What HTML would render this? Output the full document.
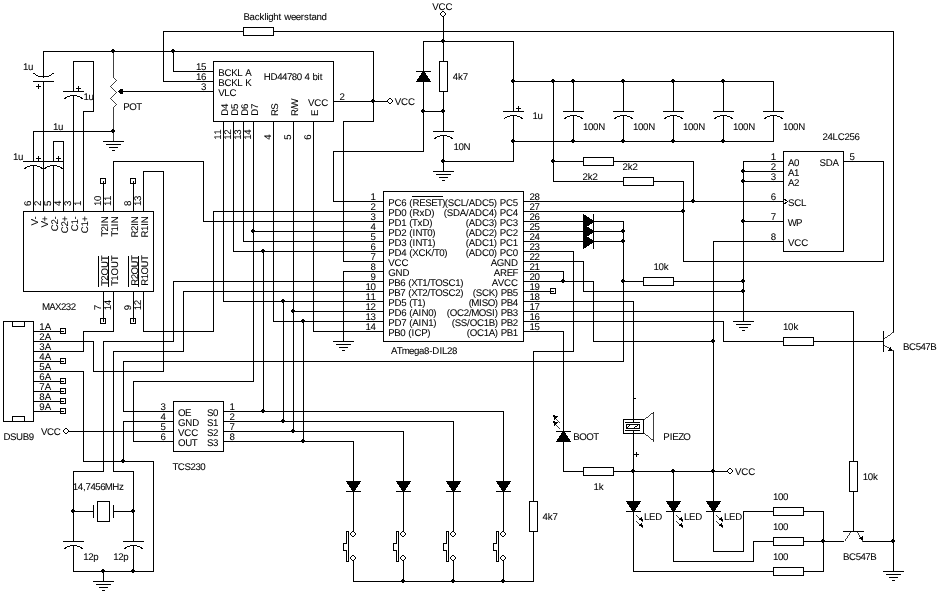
<!DOCTYPE html>
<html lang="nl">
<head>
<meta charset="utf-8">
<title>ATmega8 schema</title>
<style>
html,body{margin:0;padding:0;background:#fff}
body{width:939px;height:595px;overflow:hidden}
svg{display:block}
.bg{fill:#fff}
.g *{fill:none;stroke:#000;stroke-width:1;stroke-linecap:square}
.g .d,.g .k{fill:#000;stroke:none}
.g .w,.g .o{fill:#fff}
.g .s{stroke-width:.75;stroke-linecap:butt}
.g .a{shape-rendering:crispEdges}
.t text{font-family:"Liberation Sans",sans-serif;font-size:9.7px;fill:#000;stroke:#000;stroke-width:.07px;text-rendering:geometricPrecision}
</style>
</head>
<body>
<svg width="939" height="595" viewBox="0 0 939 595">
<rect class="bg" width="939" height="595"/>
<g class="g" shape-rendering="crispEdges">
<polyline points="163.5,81.5 163.5,31.5 243.5,31.5"/>
<rect class="w" x="243.5" y="27.5" width="30" height="8"/>
<polyline points="273.5,31.5 893.5,31.5 893.5,331.5"/>
<polyline points="163.5,81.5 213.5,81.5"/>
<polyline points="43.5,77.5 43.5,51.5 373.5,51.5 373.5,121.5 343.5,121.5 343.5,261.5 383.5,261.5"/>
<path class="d" d="M112,49h2v1h1v2h-1v1h-2v-1h-1v-2h1z"/>
<path class="d" d="M172,49h2v1h1v2h-1v1h-2v-1h-1v-2h1z"/>
<path class="d" d="M372,99h2v1h1v2h-1v1h-2v-1h-1v-2h1z"/>
<polyline points="173.5,51.5 173.5,71.5 213.5,71.5"/>
<rect x="213.5" y="61.5" width="120" height="60"/>
<polyline points="333.5,101.5 387.5,101.5"/>
<polygon class="o" points="389.5,98.5 390.5,98.5 392.5,100.5 392.5,101.5 390.5,103.5 389.5,103.5 387.5,101.5 387.5,100.5"/>
<polyline points="33.5,81.5 53.5,81.5"/>
<path class="a" d="M34,73.5 A15,15 0 0 0 53,73.5"/>
<polyline points="36.5,86.5 40.5,86.5"/>
<polyline points="38.5,84.5 38.5,88.5"/>
<polyline points="43.5,81.5 43.5,211.5"/>
<polyline points="73.5,91.5 73.5,61.5 93.5,61.5 93.5,111.5 83.5,111.5 83.5,211.5"/>
<polyline points="63.5,91.5 83.5,91.5"/>
<path class="a" d="M64.5,98.5 A15,15 0 0 1 82.5,98.5"/>
<polyline points="76.5,88.5 80.5,88.5"/>
<polyline points="78.5,86.5 78.5,90.5"/>
<polyline points="73.5,95.5 73.5,211.5"/>
<polyline class="s" points="113.5,51.5 113.5,76.5 116.5,79.5 110.5,85.5 116.5,91.5 110.5,97.5 116.5,103.5 113.5,106.5 113.5,141.5"/>
<polygon class="k" points="117.6,91.5 120,90 120,89 123,89 123,94 120,94 120,93"/>
<polyline points="120.5,91.5 213.5,91.5"/>
<path class="d" d="M112,129h2v1h1v2h-1v1h-2v-1h-1v-2h1z"/>
<polyline points="113.5,131.5 33.5,131.5 33.5,161.5"/>
<polyline points="103.5,141.5 123.5,141.5"/>
<polyline points="106.5,144.5 120.5,144.5"/>
<polyline points="109.5,147.5 117.5,147.5"/>
<polyline points="112.5,150.5 114.5,150.5"/>
<polyline points="23.5,161.5 43.5,161.5"/>
<path class="a" d="M24.5,168.5 A15,15 0 0 1 42.5,168.5"/>
<polyline points="36.5,158.5 40.5,158.5"/>
<polyline points="38.5,156.5 38.5,160.5"/>
<polyline points="33.5,165.5 33.5,211.5"/>
<polyline points="43.5,161.5 63.5,161.5"/>
<path class="a" d="M44.5,168.5 A15,15 0 0 1 62.5,168.5"/>
<polyline points="56.5,158.5 60.5,158.5"/>
<polyline points="58.5,156.5 58.5,160.5"/>
<polyline points="53.5,161.5 53.5,141.5 63.5,141.5 63.5,211.5"/>
<polyline points="53.5,165.5 53.5,211.5"/>
<rect x="23.5" y="211.5" width="130" height="80"/>
<polyline points="98.5,256.5 98.5,286.5"/>
<polyline points="108.5,256.5 108.5,286.5"/>
<rect x="100.5" y="178.5" width="5" height="5"/>
<polyline points="103.5,181.5 103.5,211.5"/>
<rect x="100.5" y="318.5" width="5" height="5"/>
<polyline points="103.5,291.5 103.5,321.5"/>
<polyline points="128.5,256.5 128.5,286.5"/>
<polyline points="138.5,256.5 138.5,286.5"/>
<rect x="130.5" y="178.5" width="5" height="5"/>
<polyline points="133.5,181.5 133.5,211.5"/>
<rect x="130.5" y="318.5" width="5" height="5"/>
<polyline points="133.5,291.5 133.5,321.5"/>
<polyline points="113.5,211.5 113.5,161.5 203.5,161.5 203.5,221.5 383.5,221.5"/>
<polyline points="143.5,211.5 143.5,171.5 163.5,171.5 163.5,371.5 93.5,371.5 93.5,341.5 33.5,341.5"/>
<polyline points="113.5,291.5 113.5,331.5 83.5,331.5 83.5,351.5 33.5,351.5"/>
<polyline points="143.5,291.5 143.5,331.5 213.5,331.5 213.5,211.5 383.5,211.5"/>
<rect x="3.5" y="321.5" width="30" height="100"/>
<rect x="12.5" y="321.5" width="12" height="5"/>
<rect x="12.5" y="416.5" width="12" height="5"/>
<polyline points="33.5,331.5 63.5,331.5"/>
<rect x="60.5" y="328.5" width="5" height="5"/>
<polyline points="33.5,361.5 63.5,361.5"/>
<rect x="60.5" y="358.5" width="5" height="5"/>
<polyline points="33.5,381.5 63.5,381.5"/>
<rect x="60.5" y="378.5" width="5" height="5"/>
<polyline points="33.5,391.5 63.5,391.5"/>
<rect x="60.5" y="388.5" width="5" height="5"/>
<polyline points="33.5,401.5 63.5,401.5"/>
<rect x="60.5" y="398.5" width="5" height="5"/>
<polyline points="33.5,411.5 63.5,411.5"/>
<rect x="60.5" y="408.5" width="5" height="5"/>
<polyline points="33.5,371.5 83.5,371.5 83.5,461.5 153.5,461.5 153.5,571.5 73.5,571.5 73.5,545.5"/>
<path class="d" d="M122,459h2v1h1v2h-1v1h-2v-1h-1v-2h1z"/>
<path class="d" d="M102,569h2v1h1v2h-1v1h-2v-1h-1v-2h1z"/>
<path class="d" d="M132,569h2v1h1v2h-1v1h-2v-1h-1v-2h1z"/>
<polyline points="103.5,571.5 103.5,581.5"/>
<polyline points="93.5,581.5 113.5,581.5"/>
<polyline points="96.5,584.5 110.5,584.5"/>
<polyline points="99.5,587.5 107.5,587.5"/>
<polyline points="102.5,590.5 104.5,590.5"/>
<polyline points="133.5,545.5 133.5,571.5"/>
<polygon class="o" points="65.5,428.5 66.5,428.5 68.5,430.5 68.5,431.5 66.5,433.5 65.5,433.5 63.5,431.5 63.5,430.5"/>
<polyline points="69.5,431.5 173.5,431.5"/>
<polyline points="383.5,281.5 173.5,281.5 173.5,341.5 103.5,341.5 103.5,471.5 73.5,471.5 73.5,541.5"/>
<polyline points="383.5,291.5 183.5,291.5 183.5,351.5 113.5,351.5 113.5,471.5 133.5,471.5 133.5,541.5"/>
<polyline points="63.5,541.5 83.5,541.5"/>
<path class="a" d="M64.5,548.5 A15,15 0 0 1 82.5,548.5"/>
<polyline points="123.5,541.5 143.5,541.5"/>
<path class="a" d="M124.5,548.5 A15,15 0 0 1 142.5,548.5"/>
<path class="d" d="M72,509h2v1h1v2h-1v1h-2v-1h-1v-2h1z"/>
<path class="d" d="M132,509h2v1h1v2h-1v1h-2v-1h-1v-2h1z"/>
<polyline points="73.5,511.5 93.5,511.5"/>
<polyline points="93.5,505.5 93.5,517.5"/>
<rect class="w" x="97.5" y="501.5" width="12" height="20"/>
<polyline points="113.5,505.5 113.5,517.5"/>
<polyline points="113.5,511.5 133.5,511.5"/>
<rect x="173.5" y="401.5" width="50" height="50"/>
<polyline points="623.5,221.5 623.5,361.5 123.5,361.5 123.5,411.5 173.5,411.5"/>
<polyline points="173.5,421.5 123.5,421.5 123.5,461.5"/>
<polyline points="173.5,441.5 133.5,441.5 133.5,381.5 253.5,381.5 253.5,121.5"/>
<path class="d" d="M252,229h2v1h1v2h-1v1h-2v-1h-1v-2h1z"/>
<polyline points="253.5,231.5 383.5,231.5"/>
<polyline points="223.5,121.5 223.5,301.5 383.5,301.5"/>
<path class="d" d="M282,299h2v1h1v2h-1v1h-2v-1h-1v-2h1z"/>
<polyline points="283.5,301.5 283.5,421.5"/>
<path class="d" d="M282,419h2v1h1v2h-1v1h-2v-1h-1v-2h1z"/>
<polyline points="233.5,121.5 233.5,251.5 383.5,251.5"/>
<path class="d" d="M262,249h2v1h1v2h-1v1h-2v-1h-1v-2h1z"/>
<polyline points="263.5,251.5 263.5,411.5"/>
<path class="d" d="M262,409h2v1h1v2h-1v1h-2v-1h-1v-2h1z"/>
<polyline points="243.5,121.5 243.5,241.5 383.5,241.5"/>
<polyline points="273.5,121.5 273.5,321.5 383.5,321.5"/>
<path class="d" d="M302,319h2v1h1v2h-1v1h-2v-1h-1v-2h1z"/>
<polyline points="303.5,321.5 303.5,441.5"/>
<path class="d" d="M302,439h2v1h1v2h-1v1h-2v-1h-1v-2h1z"/>
<polyline points="293.5,121.5 293.5,431.5"/>
<path class="d" d="M292,309h2v1h1v2h-1v1h-2v-1h-1v-2h1z"/>
<path class="d" d="M292,429h2v1h1v2h-1v1h-2v-1h-1v-2h1z"/>
<polyline points="293.5,311.5 383.5,311.5"/>
<polyline points="313.5,121.5 313.5,331.5 383.5,331.5"/>
<polyline points="223.5,411.5 503.5,411.5 503.5,481.5"/>
<polygon class="k" points="495.67,481 511.33,481 504.67,491 502.33,491"/>
<polyline points="496.5,491.5 510.5,491.5"/>
<polyline points="503.5,491.5 503.5,531.5"/>
<polygon class="o" points="502.5,531.5 503.5,531.5 505.5,533.5 505.5,534.5 503.5,536.5 502.5,536.5 500.5,534.5 500.5,533.5"/>
<polygon class="o" points="502.5,555.5 503.5,555.5 505.5,557.5 505.5,558.5 503.5,560.5 502.5,560.5 500.5,558.5 500.5,557.5"/>
<polyline points="503.5,561.5 503.5,581.5"/>
<path class="w" d="M496.5,531.5 h2 v30 h-2 v-11 h-3 v-7 h3 z"/>
<polyline points="223.5,421.5 453.5,421.5 453.5,481.5"/>
<polygon class="k" points="445.67,481 461.33,481 454.67,491 452.33,491"/>
<polyline points="446.5,491.5 460.5,491.5"/>
<polyline points="453.5,491.5 453.5,531.5"/>
<polygon class="o" points="452.5,531.5 453.5,531.5 455.5,533.5 455.5,534.5 453.5,536.5 452.5,536.5 450.5,534.5 450.5,533.5"/>
<polygon class="o" points="452.5,555.5 453.5,555.5 455.5,557.5 455.5,558.5 453.5,560.5 452.5,560.5 450.5,558.5 450.5,557.5"/>
<polyline points="453.5,561.5 453.5,581.5"/>
<path class="w" d="M446.5,531.5 h2 v30 h-2 v-11 h-3 v-7 h3 z"/>
<polyline points="223.5,431.5 403.5,431.5 403.5,481.5"/>
<polygon class="k" points="395.67,481 411.33,481 404.67,491 402.33,491"/>
<polyline points="396.5,491.5 410.5,491.5"/>
<polyline points="403.5,491.5 403.5,531.5"/>
<polygon class="o" points="402.5,531.5 403.5,531.5 405.5,533.5 405.5,534.5 403.5,536.5 402.5,536.5 400.5,534.5 400.5,533.5"/>
<polygon class="o" points="402.5,555.5 403.5,555.5 405.5,557.5 405.5,558.5 403.5,560.5 402.5,560.5 400.5,558.5 400.5,557.5"/>
<polyline points="403.5,561.5 403.5,581.5"/>
<path class="w" d="M396.5,531.5 h2 v30 h-2 v-11 h-3 v-7 h3 z"/>
<polyline points="223.5,441.5 353.5,441.5 353.5,481.5"/>
<polygon class="k" points="345.67,481 361.33,481 354.67,491 352.33,491"/>
<polyline points="346.5,491.5 360.5,491.5"/>
<polyline points="353.5,491.5 353.5,531.5"/>
<polygon class="o" points="352.5,531.5 353.5,531.5 355.5,533.5 355.5,534.5 353.5,536.5 352.5,536.5 350.5,534.5 350.5,533.5"/>
<polygon class="o" points="352.5,555.5 353.5,555.5 355.5,557.5 355.5,558.5 353.5,560.5 352.5,560.5 350.5,558.5 350.5,557.5"/>
<polyline points="353.5,561.5 353.5,581.5"/>
<path class="w" d="M346.5,531.5 h2 v30 h-2 v-11 h-3 v-7 h3 z"/>
<polyline points="353.5,581.5 533.5,581.5 533.5,531.5"/>
<path class="d" d="M402,579h2v1h1v2h-1v1h-2v-1h-1v-2h1z"/>
<path class="d" d="M452,579h2v1h1v2h-1v1h-2v-1h-1v-2h1z"/>
<path class="d" d="M502,579h2v1h1v2h-1v1h-2v-1h-1v-2h1z"/>
<rect class="w" x="529.5" y="501.5" width="8" height="30"/>
<polyline points="533.5,501.5 533.5,351.5 573.5,351.5 573.5,251.5 523.5,251.5"/>
<rect x="383.5" y="191.5" width="140" height="150"/>
<polyline points="412.5,196.5 442.5,196.5"/>
<polyline points="383.5,201.5 333.5,201.5 333.5,151.5 423.5,151.5 423.5,41.5 513.5,41.5 513.5,111.5"/>
<path class="d" d="M422,109h2v1h1v2h-1v1h-2v-1h-1v-2h1z"/>
<path class="d" d="M442,109h2v1h1v2h-1v1h-2v-1h-1v-2h1z"/>
<polyline points="423.5,111.5 443.5,111.5"/>
<polygon class="k" points="415.67,82 431.33,82 424.67,72 422.33,72"/>
<polyline points="416.5,71.5 430.5,71.5"/>
<polygon class="o" points="442.5,11.5 443.5,11.5 445.5,13.5 445.5,14.5 443.5,16.5 442.5,16.5 440.5,14.5 440.5,13.5"/>
<polyline points="443.5,17.5 443.5,61.5"/>
<path class="d" d="M442,39h2v1h1v2h-1v1h-2v-1h-1v-2h1z"/>
<rect class="w" x="439.5" y="61.5" width="8" height="30"/>
<polyline points="443.5,91.5 443.5,131.5"/>
<polyline points="433.5,131.5 453.5,131.5"/>
<path class="a" d="M434.5,138.5 A15,15 0 0 1 452.5,138.5"/>
<polyline points="443.5,135.5 443.5,171.5"/>
<polyline points="433.5,171.5 453.5,171.5"/>
<polyline points="436.5,174.5 450.5,174.5"/>
<polyline points="439.5,177.5 447.5,177.5"/>
<polyline points="442.5,180.5 444.5,180.5"/>
<path class="d" d="M442,159h2v1h1v2h-1v1h-2v-1h-1v-2h1z"/>
<polyline points="443.5,161.5 513.5,161.5 513.5,115.5"/>
<polyline points="503.5,111.5 523.5,111.5"/>
<path class="a" d="M504.5,118.5 A15,15 0 0 1 522.5,118.5"/>
<polyline points="516.5,108.5 520.5,108.5"/>
<polyline points="518.5,106.5 518.5,110.5"/>
<polyline points="383.5,271.5 343.5,271.5 343.5,341.5"/>
<polyline points="333.5,341.5 353.5,341.5"/>
<polyline points="336.5,344.5 350.5,344.5"/>
<polyline points="339.5,347.5 347.5,347.5"/>
<polyline points="342.5,350.5 344.5,350.5"/>
<path class="d" d="M512,79h2v1h1v2h-1v1h-2v-1h-1v-2h1z"/>
<path class="d" d="M512,139h2v1h1v2h-1v1h-2v-1h-1v-2h1z"/>
<polyline points="513.5,81.5 773.5,81.5"/>
<polyline points="513.5,141.5 773.5,141.5"/>
<polyline points="573.5,81.5 573.5,111.5"/>
<polyline points="563.5,111.5 583.5,111.5"/>
<path class="a" d="M564.5,118.5 A15,15 0 0 1 582.5,118.5"/>
<polyline points="573.5,115.5 573.5,141.5"/>
<path class="d" d="M572,79h2v1h1v2h-1v1h-2v-1h-1v-2h1z"/>
<path class="d" d="M572,139h2v1h1v2h-1v1h-2v-1h-1v-2h1z"/>
<polyline points="623.5,81.5 623.5,111.5"/>
<polyline points="613.5,111.5 633.5,111.5"/>
<path class="a" d="M614.5,118.5 A15,15 0 0 1 632.5,118.5"/>
<polyline points="623.5,115.5 623.5,141.5"/>
<path class="d" d="M622,79h2v1h1v2h-1v1h-2v-1h-1v-2h1z"/>
<path class="d" d="M622,139h2v1h1v2h-1v1h-2v-1h-1v-2h1z"/>
<polyline points="673.5,81.5 673.5,111.5"/>
<polyline points="663.5,111.5 683.5,111.5"/>
<path class="a" d="M664.5,118.5 A15,15 0 0 1 682.5,118.5"/>
<polyline points="673.5,115.5 673.5,141.5"/>
<path class="d" d="M672,79h2v1h1v2h-1v1h-2v-1h-1v-2h1z"/>
<path class="d" d="M672,139h2v1h1v2h-1v1h-2v-1h-1v-2h1z"/>
<polyline points="723.5,81.5 723.5,111.5"/>
<polyline points="713.5,111.5 733.5,111.5"/>
<path class="a" d="M714.5,118.5 A15,15 0 0 1 732.5,118.5"/>
<polyline points="723.5,115.5 723.5,141.5"/>
<path class="d" d="M722,79h2v1h1v2h-1v1h-2v-1h-1v-2h1z"/>
<path class="d" d="M722,139h2v1h1v2h-1v1h-2v-1h-1v-2h1z"/>
<polyline points="773.5,81.5 773.5,111.5"/>
<polyline points="763.5,111.5 783.5,111.5"/>
<path class="a" d="M764.5,118.5 A15,15 0 0 1 782.5,118.5"/>
<polyline points="773.5,115.5 773.5,141.5"/>
<path class="d" d="M552,79h2v1h1v2h-1v1h-2v-1h-1v-2h1z"/>
<path class="d" d="M552,159h2v1h1v2h-1v1h-2v-1h-1v-2h1z"/>
<polyline points="553.5,81.5 553.5,181.5 623.5,181.5"/>
<rect class="w" x="623.5" y="177.5" width="30" height="8"/>
<polyline points="653.5,181.5 683.5,181.5 683.5,261.5 883.5,261.5 883.5,161.5 843.5,161.5"/>
<polyline points="553.5,161.5 583.5,161.5"/>
<rect class="w" x="583.5" y="157.5" width="30" height="8"/>
<polyline points="613.5,161.5 693.5,161.5 693.5,201.5"/>
<polyline points="523.5,201.5 783.5,201.5"/>
<path class="d" d="M692,199h2v1h1v2h-1v1h-2v-1h-1v-2h1z"/>
<polyline points="523.5,211.5 683.5,211.5"/>
<path class="d" d="M682,209h2v1h1v2h-1v1h-2v-1h-1v-2h1z"/>
<polyline points="523.5,221.5 623.5,221.5"/>
<polygon class="k" points="583,213.67 583,229.33 593,222.67 593,220.33"/>
<polyline points="523.5,231.5 623.5,231.5"/>
<polygon class="k" points="583,223.67 583,239.33 593,232.67 593,230.33"/>
<polyline points="523.5,241.5 623.5,241.5"/>
<polygon class="k" points="583,233.67 583,249.33 593,242.67 593,240.33"/>
<polyline points="593.5,214.5 593.5,248.5"/>
<path class="d" d="M622,229h2v1h1v2h-1v1h-2v-1h-1v-2h1z"/>
<path class="d" d="M622,239h2v1h1v2h-1v1h-2v-1h-1v-2h1z"/>
<path class="d" d="M622,279h2v1h1v2h-1v1h-2v-1h-1v-2h1z"/>
<polyline points="623.5,281.5 643.5,281.5"/>
<rect class="w" x="643.5" y="277.5" width="30" height="8"/>
<polyline points="673.5,281.5 743.5,281.5"/>
<polyline points="523.5,261.5 583.5,261.5 583.5,291.5 743.5,291.5"/>
<polyline points="523.5,271.5 563.5,271.5 563.5,281.5"/>
<path class="d" d="M562,279h2v1h1v2h-1v1h-2v-1h-1v-2h1z"/>
<polyline points="523.5,281.5 593.5,281.5 593.5,341.5 713.5,341.5"/>
<path class="d" d="M712,339h2v1h1v2h-1v1h-2v-1h-1v-2h1z"/>
<polyline points="523.5,291.5 553.5,291.5"/>
<rect x="550.5" y="288.5" width="5" height="5"/>
<polyline points="523.5,301.5 633.5,301.5 633.5,422.5"/>
<polyline points="523.5,311.5 853.5,311.5 853.5,461.5"/>
<polyline points="523.5,321.5 723.5,321.5 723.5,341.5 783.5,341.5"/>
<rect class="w" x="783.5" y="337.5" width="30" height="8"/>
<polyline points="813.5,341.5 883.5,341.5"/>
<polyline points="523.5,331.5 563.5,331.5 563.5,431.5"/>
<rect x="783.5" y="151.5" width="60" height="100"/>
<path class="w" d="M783.5,198.5 l4,3 l-4,3"/>
<polyline points="783.5,161.5 743.5,161.5 743.5,321.5"/>
<polyline points="733.5,321.5 753.5,321.5"/>
<polyline points="736.5,324.5 750.5,324.5"/>
<polyline points="739.5,327.5 747.5,327.5"/>
<polyline points="742.5,330.5 744.5,330.5"/>
<polyline points="743.5,171.5 783.5,171.5"/>
<polyline points="743.5,181.5 783.5,181.5"/>
<polyline points="743.5,221.5 783.5,221.5"/>
<path class="d" d="M742,169h2v1h1v2h-1v1h-2v-1h-1v-2h1z"/>
<path class="d" d="M742,179h2v1h1v2h-1v1h-2v-1h-1v-2h1z"/>
<path class="d" d="M742,219h2v1h1v2h-1v1h-2v-1h-1v-2h1z"/>
<path class="d" d="M742,279h2v1h1v2h-1v1h-2v-1h-1v-2h1z"/>
<path class="d" d="M742,289h2v1h1v2h-1v1h-2v-1h-1v-2h1z"/>
<polyline points="783.5,241.5 713.5,241.5 713.5,501.5"/>
<polyline points="883.5,331.5 883.5,351.5"/>
<line class="s" x1="883.5" y1="338.5" x2="893.5" y2="331.5"/>
<line class="s" x1="883.5" y1="345.5" x2="893.5" y2="351.5"/>
<polygon class="k" points="892.73,351.04 887.89,350.93 890.36,346.82"/>
<polyline points="893.5,351.5 893.5,571.5"/>
<polyline points="883.5,571.5 903.5,571.5"/>
<polyline points="886.5,574.5 900.5,574.5"/>
<polyline points="889.5,577.5 897.5,577.5"/>
<polyline points="892.5,580.5 894.5,580.5"/>
<path class="d" d="M892,539h2v1h1v2h-1v1h-2v-1h-1v-2h1z"/>
<polygon class="k" points="555.67,442 571.33,442 564.67,432 562.33,432"/>
<polyline points="556.5,431.5 570.5,431.5"/>
<line class="s" x1="560.5" y1="422.5" x2="553.5" y2="415.5"/>
<polygon class="k" points="553.08,415.08 557.74,416.35 554.35,419.74"/>
<line class="s" x1="560.5" y1="428.5" x2="553.5" y2="421.5"/>
<polygon class="k" points="553.08,421.08 557.74,422.35 554.35,425.74"/>
<polyline points="563.5,441.5 563.5,471.5 583.5,471.5"/>
<rect class="w" x="583.5" y="467.5" width="30" height="8"/>
<polyline points="613.5,471.5 727.5,471.5"/>
<polygon class="o" points="729.5,468.5 730.5,468.5 732.5,470.5 732.5,471.5 730.5,473.5 729.5,473.5 727.5,471.5 727.5,470.5"/>
<path class="d" d="M632,469h2v1h1v2h-1v1h-2v-1h-1v-2h1z"/>
<path class="d" d="M672,469h2v1h1v2h-1v1h-2v-1h-1v-2h1z"/>
<path class="d" d="M712,469h2v1h1v2h-1v1h-2v-1h-1v-2h1z"/>
<rect class="w" x="623.5" y="419.5" width="20" height="14"/>
<polyline points="625.5,422.5 639.5,422.5"/>
<polyline points="625.5,430.5 639.5,430.5"/>
<rect class="w" x="626.5" y="424.5" width="13" height="4"/>
<line x1="627.5" y1="427.5" x2="629.5" y2="425.5"/>
<line x1="634.5" y1="427.5" x2="637.5" y2="425.5"/>
<polyline points="633.5,419.5 633.5,422.5"/>
<polyline class="s" points="643.5,419.5 653.5,411.5 653.5,441.5 643.5,433.5"/>
<polyline points="633.5,430.5 633.5,501.5"/>
<polyline points="634.5,398.5 635.5,398.5"/>
<polyline points="634.5,454.5 638.5,454.5"/>
<polyline points="636.5,452.5 636.5,456.5"/>
<polygon class="k" points="625.67,501 641.33,501 634.67,511 632.33,511"/>
<polyline points="626.5,511.5 640.5,511.5"/>
<line class="s" x1="636.5" y1="514.5" x2="643.5" y2="521.5"/>
<polygon class="k" points="643.08,521.08 638.41,519.8 641.8,516.41"/>
<line class="s" x1="636.5" y1="520.5" x2="643.5" y2="527.5"/>
<polygon class="k" points="643.08,527.08 638.41,525.8 641.8,522.41"/>
<polygon class="k" points="665.67,501 681.33,501 674.67,511 672.33,511"/>
<polyline points="666.5,511.5 680.5,511.5"/>
<line class="s" x1="676.5" y1="514.5" x2="683.5" y2="521.5"/>
<polygon class="k" points="683.08,521.08 678.41,519.8 681.8,516.41"/>
<line class="s" x1="676.5" y1="520.5" x2="683.5" y2="527.5"/>
<polygon class="k" points="683.08,527.08 678.41,525.8 681.8,522.41"/>
<polygon class="k" points="705.67,501 721.33,501 714.67,511 712.33,511"/>
<polyline points="706.5,511.5 720.5,511.5"/>
<line class="s" x1="716.5" y1="514.5" x2="723.5" y2="521.5"/>
<polygon class="k" points="723.08,521.08 718.41,519.8 721.8,516.41"/>
<line class="s" x1="716.5" y1="520.5" x2="723.5" y2="527.5"/>
<polygon class="k" points="723.08,527.08 718.41,525.8 721.8,522.41"/>
<polyline points="673.5,471.5 673.5,501.5"/>
<polyline points="633.5,511.5 633.5,571.5 773.5,571.5"/>
<rect class="w" x="773.5" y="567.5" width="30" height="8"/>
<polyline points="803.5,571.5 823.5,571.5 823.5,511.5 803.5,511.5"/>
<polyline points="673.5,511.5 673.5,561.5 753.5,561.5 753.5,541.5 773.5,541.5"/>
<rect class="w" x="773.5" y="537.5" width="30" height="8"/>
<polyline points="803.5,541.5 843.5,541.5"/>
<polyline points="713.5,511.5 713.5,551.5 743.5,551.5 743.5,511.5 773.5,511.5"/>
<rect class="w" x="773.5" y="507.5" width="30" height="8"/>
<path class="d" d="M822,539h2v1h1v2h-1v1h-2v-1h-1v-2h1z"/>
<polyline points="843.5,531.5 863.5,531.5"/>
<line class="s" x1="844.5" y1="540.5" x2="850.5" y2="531.5"/>
<line class="s" x1="857.5" y1="531.5" x2="863.5" y2="541.5"/>
<polygon class="k" points="862.99,540.64 858.77,538.28 862.88,535.81"/>
<polyline points="863.5,541.5 893.5,541.5"/>
<rect class="w" x="849.5" y="461.5" width="8" height="30"/>
<polyline points="853.5,491.5 853.5,531.5"/>
</g>
<g class="t" opacity=".999">
<text x="243.52 249.48 254.68 259.61 264.41 266.38 268.21 273.14 278.43 281.39 284.16 290.88 295.81 300.83 303.97 308.99 311.58 316.51 321.44" y="19.9">Backlight weerstand</text>
<text x="263.63 270.49 277.17 282.07 286.97 291.87 296.77 302.04 304.61 309.88 312.45 317.5 319.68" y="79.6">HD44780 4 bit</text>
<text x="196.1 201.1" y="69.6">15</text>
<text x="218.27 224.5 231.27 237.3 242.65 245.27" y="75.6">BCKL A</text>
<text x="196.1 201.1" y="79.6">16</text>
<text x="218.27 224.5 231.27 237.3 242.65 245.27" y="85.6">BCKL K</text>
<text x="201.1" y="89.6">3</text>
<text x="218.27 224.3 229.5" y="95.6">VLC</text>
<text x="308.07 314.3 321.3" y="105.6">VCC</text>
<text x="339.5" y="99.6">2</text>
<text x="394.77 401 408" y="104.8">VCC</text>
<text transform="translate(227.6,115.7) rotate(-90)" x="-0 6.8" y="0">D4</text>
<text transform="translate(221.2,139.6) rotate(-90)" x="-0.2 4.8" y="0">11</text>
<text transform="translate(237.6,115.7) rotate(-90)" x="-0 6.8" y="0">D5</text>
<text transform="translate(231.2,139.6) rotate(-90)" x="-0.2 4.8" y="0">12</text>
<text transform="translate(247.6,115.7) rotate(-90)" x="-0 6.8" y="0">D6</text>
<text transform="translate(241.2,139.6) rotate(-90)" x="-0.2 4.8" y="0">13</text>
<text transform="translate(257.6,115.7) rotate(-90)" x="-0 6.8" y="0">D7</text>
<text transform="translate(251.2,139.6) rotate(-90)" x="-0.2 4.8" y="0">14</text>
<text transform="translate(277.6,115.7) rotate(-90)" x="-0.27 6" y="0">RS</text>
<text transform="translate(271.2,139.6) rotate(-90)" x="-0.2" y="0">4</text>
<text transform="translate(297.6,115.7) rotate(-90)" x="-0.39 6.21 7.87" y="0">R/W</text>
<text transform="translate(291.2,139.6) rotate(-90)" x="-0.2" y="0">5</text>
<text transform="translate(317.6,115.7) rotate(-90)" x="-0.23" y="0">E</text>
<text transform="translate(311.2,139.6) rotate(-90)" x="-0.2" y="0">6</text>
<text x="23 28" y="69.6">1u</text>
<text x="83.4 88.4" y="99.9">1u</text>
<text x="123.37 129.33 136.14" y="109.6">POT</text>
<text x="53.1 58.1" y="129.6">1u</text>
<text x="13.1 18.1" y="159.6">1u</text>
<text x="41.98 49.13 54.99 60.9 65.78 70.66" y="309.6">MAX232</text>
<text transform="translate(37.6,225.3) rotate(-90)" x="-0.23 5.88" y="0">V-</text>
<text transform="translate(31.2,205.7) rotate(-90)" x="-0.2" y="0">6</text>
<text transform="translate(47.6,227.3) rotate(-90)" x="-0.23 5.67" y="0">V+</text>
<text transform="translate(41.2,205.7) rotate(-90)" x="-0.2" y="0">2</text>
<text transform="translate(57.6,231.3) rotate(-90)" x="-0 6.8 11.88" y="0">C2-</text>
<text transform="translate(51.2,205.7) rotate(-90)" x="-0.2" y="0">5</text>
<text transform="translate(67.6,233.3) rotate(-90)" x="-0 6.8 11.67" y="0">C2+</text>
<text transform="translate(61.2,205.7) rotate(-90)" x="-0.2" y="0">4</text>
<text transform="translate(77.6,231.3) rotate(-90)" x="-0 6.8 11.88" y="0">C1-</text>
<text transform="translate(71.2,205.7) rotate(-90)" x="-0.2" y="0">3</text>
<text transform="translate(87.6,233.3) rotate(-90)" x="-0 6.8 11.67" y="0">C1+</text>
<text transform="translate(81.2,205.7) rotate(-90)" x="-0.2" y="0">1</text>
<text transform="translate(107.6,236.3) rotate(-90)" x="-0.46 4.8 10.15 13" y="0">T2IN</text>
<text transform="translate(101.2,205.7) rotate(-90)" x="-0.2 4.8" y="0">10</text>
<text transform="translate(117.6,236.3) rotate(-90)" x="-0.46 4.8 10.15 13" y="0">T1IN</text>
<text transform="translate(111.2,205.7) rotate(-90)" x="-0.2 4.8" y="0">11</text>
<text transform="translate(137.6,237.3) rotate(-90)" x="-0.16 6.37 11.54 14.16" y="0">R2IN</text>
<text transform="translate(131.2,205.7) rotate(-90)" x="-0.2" y="0">8</text>
<text transform="translate(147.6,237.3) rotate(-90)" x="-0.16 6.37 11.54 14.16" y="0">R1IN</text>
<text transform="translate(141.2,205.7) rotate(-90)" x="-0.2 4.8" y="0">13</text>
<text transform="translate(107.6,285.7) rotate(-90)" x="-0.38 5.06 10.19 17.7 24.45" y="0">T2OUT</text>
<text transform="translate(101.2,310) rotate(-90)" x="-0.2" y="0">7</text>
<text transform="translate(117.6,285.7) rotate(-90)" x="-0.38 5.06 10.19 17.7 24.45" y="0">T1OUT</text>
<text transform="translate(111.2,310) rotate(-90)" x="-0.2 4.8" y="0">14</text>
<text transform="translate(137.6,285.7) rotate(-90)" x="-0.12 6.5 11.23 18.27 24.62" y="0">R2OUT</text>
<text transform="translate(131.2,310) rotate(-90)" x="-0.2" y="0">9</text>
<text transform="translate(147.6,285.7) rotate(-90)" x="-0.12 6.5 11.23 18.27 24.62" y="0">R1OUT</text>
<text transform="translate(141.2,310) rotate(-90)" x="-0.2 4.8" y="0">12</text>
<text x="39.33 44.79" y="329.6">1A</text>
<text x="39.33 44.79" y="339.6">2A</text>
<text x="39.33 44.79" y="349.6">3A</text>
<text x="39.33 44.79" y="359.6">4A</text>
<text x="39.33 44.79" y="369.6">5A</text>
<text x="39.33 44.79" y="379.6">6A</text>
<text x="39.33 44.79" y="389.6">7A</text>
<text x="39.33 44.79" y="399.6">8A</text>
<text x="39.33 44.79" y="409.6">9A</text>
<text x="3.42 10.04 16.12 22.75 28.66" y="439.6">DSUB9</text>
<text x="40.96 46.96 53.72" y="434.6">VCC</text>
<text x="72.75 77.66 82.93 85.5 90.41 95.31 100.22 104.76 112.16 119.12" y="489.9">14,7456MHz</text>
<text x="83.3 88.3 93.3" y="559.9">12p</text>
<text x="113.3 118.3 123.3" y="559.9">12p</text>
<text x="172.5 177.87 184.54 190.49 195.42 200.34" y="469.8">TCS230</text>
<text x="160.6" y="409.6">3</text>
<text x="178.03 185.07" y="415.6">OE</text>
<text x="229.5" y="409.6">1</text>
<text x="207.07 213.1" y="415.6">S0</text>
<text x="160.6" y="419.6">4</text>
<text x="178.03 185.3 192.3" y="425.6">GND</text>
<text x="229.5" y="419.6">2</text>
<text x="207.07 213.1" y="425.6">S1</text>
<text x="160.6" y="429.6">5</text>
<text x="178.07 184.3 191.3" y="435.6">VCC</text>
<text x="229.5" y="429.6">7</text>
<text x="207.07 213.1" y="435.6">S2</text>
<text x="160.6" y="439.6">6</text>
<text x="178.03 185.3 191.84" y="445.6">OUT</text>
<text x="229.5" y="439.6">8</text>
<text x="207.07 213.1" y="445.6">S3</text>
<text x="542.4 547.68 552.4" y="519.9">4k7</text>
<text x="391.07 396.84 401.76 409.1 414.1 419.1 424.1 429.18 432.3 439.45 442.1 447.1 452.1" y="353.6">ATmega8-DIL28</text>
<text x="370.6" y="199.6">1</text>
<text x="388.17 394.4 401.2 406.55 409.28 412.4 419.17 425.17 431.17 436.94 442.28" y="205.6">PC6 (RESET)</text>
<text x="529.4 534.4" y="199.6">28</text>
<text x="444.78 447.67 453.9 460.7 466.05 468.67 474.9 481.9 488.7 493.78 497.05 499.67 505.9 512.7" y="205.6">(SCL/ADC5) PC5</text>
<text x="370.6" y="209.6">2</text>
<text x="388.17 394.4 401.2 406.55 409.28 412.4 419.47 424.4 431.28" y="215.6">PD0 (RxD)</text>
<text x="529.4 534.4" y="209.6">27</text>
<text x="443.78 446.67 452.9 459.67 466.05 468.67 474.9 481.9 488.7 493.78 497.05 499.67 505.9 512.7" y="215.6">(SDA/ADC4) PC4</text>
<text x="370.6" y="219.6">3</text>
<text x="388.17 394.4 401.2 406.55 409.28 411.94 417.47 422.4 429.28" y="225.6">PD1 (TxD)</text>
<text x="529.4 534.4" y="219.6">26</text>
<text x="465.78 468.67 474.9 481.9 488.7 493.78 497.05 499.67 505.9 512.7" y="225.6">(ADC3) PC3</text>
<text x="370.6" y="229.6">4</text>
<text x="388.17 394.4 401.2 406.55 409.28 412.55 415.4 421.94 427.2 432.28" y="235.6">PD2 (INT0)</text>
<text x="529.4 534.4" y="229.6">25</text>
<text x="465.78 468.67 474.9 481.9 488.7 493.78 497.05 499.67 505.9 512.7" y="235.6">(ADC2) PC2</text>
<text x="370.6" y="239.6">5</text>
<text x="388.17 394.4 401.2 406.55 409.28 412.55 415.4 421.94 427.2 432.28" y="245.6">PD3 (INT1)</text>
<text x="529.4 534.4" y="239.6">24</text>
<text x="465.78 468.67 474.9 481.9 488.7 493.78 497.05 499.67 505.9 512.7" y="245.6">(ADC1) PC1</text>
<text x="370.6" y="249.6">6</text>
<text x="388.17 394.4 401.2 406.55 409.28 412.17 418.4 425.17 431.55 433.94 439.2 444.28" y="255.6">PD4 (XCK/T0)</text>
<text x="529.4 534.4" y="249.6">23</text>
<text x="465.78 468.67 474.9 481.9 488.7 493.78 497.05 499.67 505.9 512.7" y="255.6">(ADC0) PC0</text>
<text x="370.6" y="259.6">7</text>
<text x="388.17 394.4 401.4" y="265.6">VCC</text>
<text x="529.4 534.4" y="259.6">22</text>
<text x="490.67 496.63 503.9 510.9" y="265.6">AGND</text>
<text x="370.6" y="269.6">8</text>
<text x="388.13 395.4 402.4" y="275.6">GND</text>
<text x="529.4 534.4" y="269.6">21</text>
<text x="493.67 499.9 506.67 512.44" y="275.6">AREF</text>
<text x="370.6" y="279.6">9</text>
<text x="388.17 394.17 400.2 405.55 408.28 411.17 416.94 422.2 427.55 429.94 435.13 442.17 448.4 455.2 460.28" y="285.6">PB6 (XT1/TOSC1)</text>
<text x="529.4 534.4" y="279.6">20</text>
<text x="491.67 497.67 503.9 510.9" y="285.6">AVCC</text>
<text x="365.6 370.6" y="289.6">10</text>
<text x="388.17 394.17 400.2 405.55 408.28 411.17 416.94 422.2 427.55 429.94 435.13 442.17 448.4 455.2 460.28" y="295.6">PB7 (XT2/TOSC2)</text>
<text x="529.4 534.4" y="289.6">19</text>
<text x="472.78 475.67 481.9 488.67 494.78 498.05 500.67 506.67 512.7" y="295.6">(SCK) PB5</text>
<text x="365.6 370.6" y="299.6">11</text>
<text x="388.17 394.4 401.2 406.55 409.28 411.94 417.2 422.28" y="305.6">PD5 (T1)</text>
<text x="529.4 534.4" y="299.6">18</text>
<text x="468.78 471.36 479.05 481.67 487.63 494.78 498.05 500.67 506.67 512.7" y="305.6">(MISO) PB4</text>
<text x="365.6 370.6" y="309.6">12</text>
<text x="388.17 394.4 401.2 406.55 409.28 412.17 418.55 421.4 428.2 433.28" y="315.6">PD6 (AIN0)</text>
<text x="529.4 534.4" y="309.6">17</text>
<text x="446.78 449.63 456.9 463.7 469.05 471.36 478.63 485.67 492.05 494.78 498.05 500.67 506.67 512.7" y="315.6">(OC2/MOSI) PB3</text>
<text x="365.6 370.6" y="319.6">13</text>
<text x="388.17 394.4 401.2 406.55 409.28 412.17 418.55 421.4 428.2 433.28" y="325.6">PD7 (AIN1)</text>
<text x="529.4 534.4" y="319.6">16</text>
<text x="451.78 454.67 460.67 467.05 469.63 476.9 483.7 488.67 494.78 498.05 500.67 506.67 512.7" y="325.6">(SS/OC1B) PB2</text>
<text x="365.6 370.6" y="329.6">14</text>
<text x="388.17 394.17 400.2 405.55 408.28 411.55 414.4 421.17 427.28" y="335.6">PB0 (ICP)</text>
<text x="529.4 534.4" y="329.6">15</text>
<text x="466.78 469.63 476.9 483.7 488.67 494.78 498.05 500.67 506.67 512.7" y="335.6">(OC1A) PB1</text>
<text x="432.37 438.6 445.6" y="9.6">VCC</text>
<text x="452.8 458.07 462.8" y="79.9">4k7</text>
<text x="453.4 458.4 463.6" y="149.8">10N</text>
<text x="532.4 537.4" y="118.9">1u</text>
<text x="583.1 588.1 593.1 598.3" y="129.8">100N</text>
<text x="633.1 638.1 643.1 648.3" y="129.8">100N</text>
<text x="683.1 688.1 693.1 698.3" y="129.8">100N</text>
<text x="733.1 738.1 743.1 748.3" y="129.8">100N</text>
<text x="783.1 788.1 793.1 798.3" y="129.8">100N</text>
<text x="622.4 627.68 632.4" y="169.8">2k2</text>
<text x="582.4 587.68 592.4" y="179.8">2k2</text>
<text x="653.4 658.4 663.68" y="269.8">10k</text>
<text x="783.1 788.1 793.38" y="329.8">10k</text>
<text x="822.6 827.6 832.6 837.8 844.6 849.6 854.6" y="139.8">24LC256</text>
<text x="770.8" y="159.6">1</text>
<text x="788.07 794.1" y="165.6">A0</text>
<text x="770.8" y="169.6">2</text>
<text x="788.07 794.1" y="175.6">A1</text>
<text x="770.8" y="179.6">3</text>
<text x="788.07 794.1" y="185.6">A2</text>
<text x="770.8" y="199.6">6</text>
<text x="788.07 794.3 801.1" y="205.6">SCL</text>
<text x="770.8" y="219.6">7</text>
<text x="787.72 796.07" y="225.6">WP</text>
<text x="770.8" y="239.6">8</text>
<text x="788.07 794.3 801.3" y="245.6">VCC</text>
<text x="819.57 825.8 832.57" y="165.6">SDA</text>
<text x="849.5" y="159.6">5</text>
<text x="902.98 909.02 915.65 920.5 925.35 930.15" y="349.8">BC547B</text>
<text x="573.37 579.33 586.33 593.14" y="439.8">BOOT</text>
<text x="735.07 741.3 748.3" y="474.8">VCC</text>
<text x="593.4 598.68" y="489.8">1k</text>
<text x="663.37 669.75 672.37 678.14 683.33" y="439.8">PIEZO</text>
<text x="644 648.97 655.2" y="519.8">LED</text>
<text x="684 688.97 695.2" y="519.8">LED</text>
<text x="724 728.97 735.2" y="519.8">LED</text>
<text x="773 778 783" y="499.8">100</text>
<text x="773 778 783" y="529.8">100</text>
<text x="773 778 783" y="559.8">100</text>
<text x="862.8 867.8 873.08" y="479.8">10k</text>
<text x="842.98 849.02 855.65 860.5 865.35 870.15" y="559.8">BC547B</text>
</g>
</svg>
</body>
</html>
